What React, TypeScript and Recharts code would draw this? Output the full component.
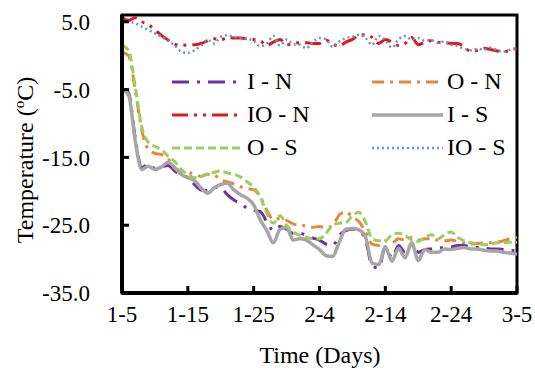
import { LineChart, Line, XAxis, YAxis, ReferenceArea, Legend } from 'recharts';

const dayTicks = [0, 10, 20, 30, 40, 50, 60];
const dayLabels = ['1-5', '1-15', '1-25', '2-4', '2-14', '2-24', '3-5'];
const tempTicks = [-35, -25, -15, -5, 5];

// daily temperatures, day 0 = 1-5
const iN = [
  -4.8, -5.5, -12, -16.5, -16.0, -16.6, -16.4, -16.2, -17.0, -17.6,
  -18.0, -19.0, -19.8, -19.9, -19.4, -19.5, -20.5, -21.3, -21.8, -22.5,
  -22.8, -23.0, -24.5, -25.8, -25.2, -25.6, -26.2, -26.2, -26.5, -26.9,
  -27.2, -27.8, -28.0, -26.5, -25.8, -25.6, -25.8, -27.2, -31.0, -31.3,
  -28.2, -29.8, -28.0, -29.0, -27.8, -29.0, -28.6, -28.5, -28.4, -28.3,
  -28.2, -28.0, -28.0, -28.2, -28.3, -28.4, -28.5, -28.5, -28.6, -28.7, -28.8,
];
const oN = [
  0.5, 0.0, -5.0, -11.0, -13.8, -14.4, -14.6, -15.2, -16.6, -17.0,
  -17.2, -17.5, -17.8, -17.5, -17.6, -18.3, -18.6, -18.9, -19.3, -19.6,
  -19.8, -20.8, -22.8, -24.2, -24.0, -24.3, -24.8, -25.0, -25.1, -25.3,
  -25.2, -25.4, -25.0, -23.5, -23.0, -23.8, -24.5, -26.0, -27.8, -28.0,
  -27.3, -27.6, -27.0, -27.2, -26.8, -27.2, -27.0, -27.0, -27.2, -27.3,
  -27.2, -27.4, -27.6, -27.8, -27.7, -27.6, -27.6, -27.5, -27.3, -27.0, -26.8,
];
const ioN = [
  5.6, 5.2, 5.6, 5.0, 4.6, 3.8, 3.0, 2.3, 1.7, 1.5,
  1.6, 1.6, 1.8, 2.2, 2.5, 2.3, 2.7, 2.6, 2.6, 2.5,
  2.4, 2.2, 1.5, 2.0, 2.4, 1.6, 1.8, 1.9, 1.9, 1.8,
  1.8, 2.3, 1.7, 1.4, 2.0, 2.4, 3.0, 3.1, 2.7, 1.8,
  2.4, 2.0, 1.5, 1.8, 2.7, 1.6, 2.0, 2.2, 2.0, 1.9,
  1.8, 1.8, 1.3, 0.6, 0.8, 1.1, 0.9, 0.7, 0.6, 0.8, 1.1,
];
const iS = [
  -5.0, -5.8, -12.5, -16.8, -16.3, -16.8, -16.4, -15.7, -16.5, -17.5,
  -18.0, -18.4, -19.5, -20.3, -19.5, -19.0, -18.8, -19.8, -20.5, -21.0,
  -22.0, -24.2, -25.8, -27.6, -25.6, -25.3, -27.2, -27.0, -27.2, -27.9,
  -28.6, -29.5, -29.6, -27.5, -25.6, -25.5, -25.7, -26.8, -30.6, -30.8,
  -28.2, -30.3, -28.4, -29.8, -27.6, -30.2, -28.6, -29.0, -29.0, -28.5,
  -28.6, -28.4, -28.3, -28.5, -28.5, -28.7, -28.8, -28.8, -29.0, -29.1, -29.3,
];
const oS = [
  1.5, 0.8, -4.5, -10.5, -12.8, -13.4, -13.9, -14.8, -15.6, -16.8,
  -17.5, -18.0, -17.8, -17.4, -17.2, -17.0, -17.3, -17.5, -17.9, -18.6,
  -19.4, -20.8, -23.2, -24.7, -23.6, -25.0, -26.0, -26.5, -26.8, -27.0,
  -27.0, -26.2, -25.0, -24.7, -24.6, -23.6, -23.1, -24.6, -27.0, -27.3,
  -27.3, -26.4, -26.2, -26.5, -27.2, -27.4, -26.8, -26.4, -27.0, -26.4,
  -26.0, -26.8, -27.3, -27.6, -27.7, -27.9, -27.8, -27.6, -27.6, -27.5, -27.5,
];
const ioS = [
  5.3, 5.0, 4.8, 4.3, 3.8, 3.3, 2.8, 2.2, 1.5, 0.6,
  0.4, 0.8, 1.5, 2.3, 1.8, 2.8, 3.0, 2.8, 2.6, 2.5,
  2.2, 1.4, 1.8, 2.9, 1.5, 2.4, 1.7, 1.6, 1.1, 2.0,
  2.6, 2.4, 1.3, 2.1, 2.6, 2.8, 3.1, 2.6, 1.6, 2.9,
  2.3, 1.2, 2.4, 2.9, 2.4, 2.6, 2.2, 2.3, 1.9, 2.1,
  1.6, 1.4, 1.0, 0.8, 1.0, 0.9, 1.2, 0.8, 0.6, 0.9, 1.1,
];

const data = iN.map((_, d) => ({
  day: d,
  iN: iN[d],
  oN: oN[d],
  ioN: ioN[d],
  iS: iS[d],
  oS: oS[d],
  ioS: ioS[d],
}));

const series = [
  { key: 'iN', name: 'I - N', color: '#7030A0', dash: '17 8 3 8', width: 3 },
  { key: 'oN', name: 'O - N', color: '#E8873C', dash: '12 6 3 6', width: 3 },
  { key: 'ioN', name: 'IO - N', color: '#E0191F', dash: '16 6 3 6 3 6', width: 3 },
  { key: 'iS', name: 'I - S', color: '#A6A6A6', dash: undefined, width: 3.5 },
  { key: 'oS', name: 'O - S', color: '#9BCF5C', dash: '8 4', width: 3 },
  { key: 'ioS', name: 'IO - S', color: '#6A96C4', dash: '2 3', width: 2.5 },
];

const font = 'Liberation Serif, Times New Roman, serif';

const renderLegend = () => (
  <div style={{ display: 'grid', gridTemplateColumns: '200px 200px' }}>
    {series.map((s) => (
      <div key={s.key} style={{ display: 'flex', alignItems: 'center', height: 33 }}>
        <svg width={71} height={10}>
          <line x1={0} y1={5} x2={71} y2={5} stroke={s.color} strokeWidth={s.width} strokeDasharray={s.dash} />
        </svg>
        <span style={{ marginLeft: 4, fontFamily: font, fontSize: 24, lineHeight: '33px', color: '#000' }}>
          {s.name}
        </span>
      </div>
    ))}
  </div>
);

export default function App() {
  return (
    <div style={{ position: 'absolute', left: 0, top: 0, background: '#fff' }}>
      <LineChart width={535} height={370} data={data} margin={{ top: 15, right: 18, left: 0, bottom: 0 }}>
        <ReferenceArea x1={0} x2={60} y1={-35} y2={6} fill="none" stroke="#000" strokeWidth={3} ifOverflow="visible" />
        <XAxis
          type="number"
          dataKey="day"
          domain={[0, 60]}
          ticks={dayTicks}
          interval={0}
          tickFormatter={(v: number) => dayLabels[dayTicks.indexOf(v)]}
          height={77}
          axisLine={{ stroke: '#000', strokeWidth: 4 }}
          tickLine={{ stroke: '#000', strokeWidth: 3 }}
          tickSize={-7}
          tickMargin={20}
          tick={{ fontFamily: font, fontSize: 23, fill: '#000' }}
          label={{
            content: () => (
              <text x={320} y={363} textAnchor="middle" fontFamily={font} fontSize={24} fill="#000">
                Time (Days)
              </text>
            ),
          }}
        />
        <YAxis
          type="number"
          domain={[-35, 6]}
          ticks={tempTicks}
          interval={0}
          allowDataOverflow
          tickFormatter={(v: number) => v.toFixed(1)}
          width={122}
          axisLine={{ stroke: '#000', strokeWidth: 4 }}
          tickLine={{ stroke: '#000', strokeWidth: 3 }}
          tickSize={-7}
          tickMargin={39}
          tick={{ fontFamily: font, fontSize: 23, fill: '#000' }}
          label={{
            content: () => (
              <text transform="rotate(-90)" x={-160} y={33} textAnchor="middle" fontFamily={font} fontSize={24} fill="#000">
                Temperature (<tspan dy={-9} fontSize={15}>o</tspan>
                <tspan dy={9}>C)</tspan>
              </text>
            ),
          }}
        />
        <Legend
          layout="horizontal"
          verticalAlign="middle"
          align="center"
          wrapperStyle={{ left: 172, top: 65, width: 400 }}
          content={renderLegend}
        />
        {series.map((s) => (
          <Line
            key={s.key}
            type="monotone"
            dataKey={s.key}
            name={s.name}
            stroke={s.color}
            strokeWidth={s.width}
            strokeDasharray={s.dash}
            dot={false}
            isAnimationActive={false}
          />
        ))}
      </LineChart>
    </div>
  );
}
